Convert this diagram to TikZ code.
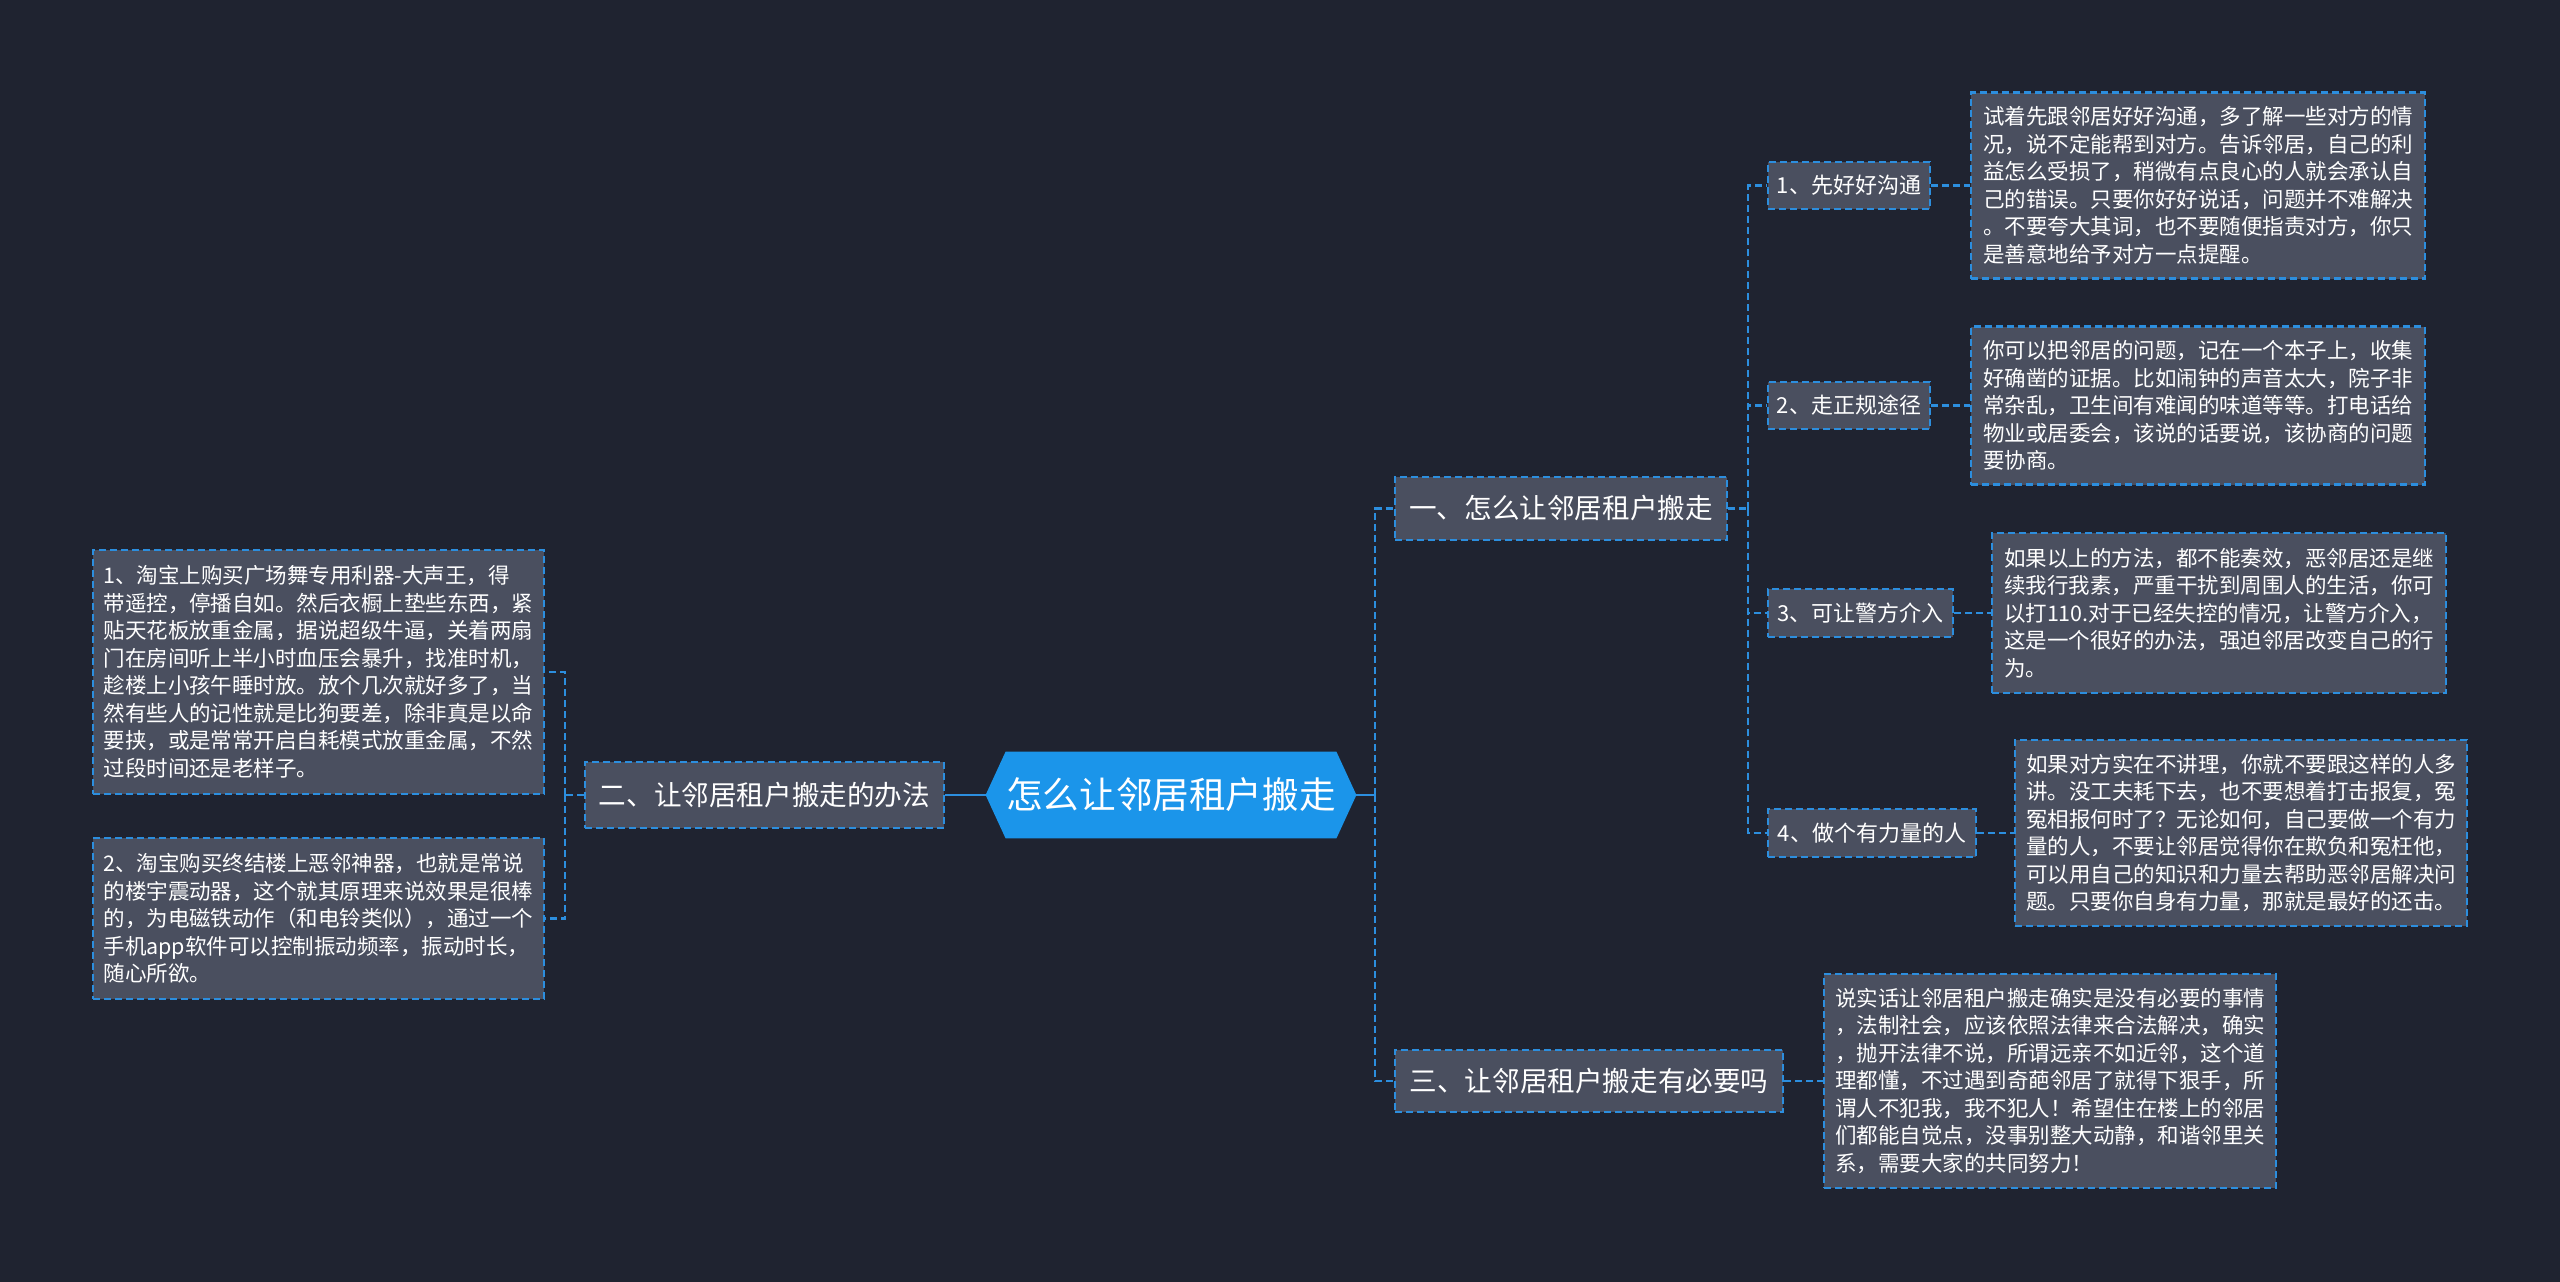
\documentclass[tikz,border=0pt]{standalone}
\usepackage{fontspec}
\setmainfont{Noto Sans CJK SC}
\usetikzlibrary{calc}
\definecolor{bgcol}{HTML}{1F2330}
\definecolor{boxcol}{HTML}{4A4F5F}
\definecolor{linecol}{HTML}{2C8EDE}
\definecolor{rootcol}{HTML}{1B95EA}
\pgfdeclarelayer{bg}
\pgfsetlayers{bg,main}

\begin{document}
\begin{tikzpicture}[x=0.5pt,y=-0.5pt,
  dashline/.style={draw=linecol,line width=1.2pt,dash pattern=on 3.5pt off 2pt},
  link/.style={dashline},
  topic/.style={text=white,inner sep=0pt,font=\fontsize{18.3pt}{22pt}\selectfont},
  branch/.style={dashline,fill=boxcol,text=white,inner sep=0pt,font=\fontsize{13.8pt}{16pt}\selectfont},
  item/.style={dashline,fill=boxcol,text=white,inner sep=0pt,font=\fontsize{11pt}{13pt}\selectfont},
  note/.style={dashline,fill=boxcol,text=white,inner sep=0pt,align=left,font=\fontsize{10.75pt}{13.75pt}\selectfont}]
\useasboundingbox (0,0) rectangle (2560,1281);
\begin{pgfonlayer}{bg}
\fill[bgcol] (-10,-10) rectangle (2570,1291);
\end{pgfonlayer}

\node[topic] (root)[minimum width=165pt,minimum height=43pt] at (1171,795) {怎么让邻居租户搬走};
\begin{pgfonlayer}{bg}
\fill[rootcol] (root.north west) -- (root.north east) -- ([xshift=10pt]root.east)
  -- (root.south east) -- (root.south west) -- ([xshift=-10pt]root.west) -- cycle;
\end{pgfonlayer}
\coordinate (rootR) at ([xshift=10pt]root.east);
\coordinate (rootL) at ([xshift=-10pt]root.west);

\node[branch] (yi)[minimum width=166pt,minimum height=31.5pt] at (1561,508.5) {一、怎么让邻居租户搬走};
\node[branch] (er)[minimum width=179.5pt,minimum height=33pt] at (764.5,795) {二、让邻居租户搬走的办法};
\node[branch] (san)[minimum width=194pt,minimum height=31pt] at (1589,1081) {三、让邻居租户搬走有必要吗};

\node[item] (s1)[minimum width=81pt,minimum height=23.5pt] at (1849,185.5) {1、先好好沟通};
\node[item] (s2)[minimum width=81pt,minimum height=23.5pt] at (1849,405.5) {2、走正规途径};
\node[item] (s3)[minimum width=92.5pt,minimum height=24pt] at (1860.5,613) {3、可让警方介入};
\node[item] (s4)[minimum width=104pt,minimum height=24pt] at (1872,833) {4、做个有力量的人};

\node[note] (d1)[minimum width=227pt,minimum height=93pt] at (2198,185.5) {试着先跟邻居好好沟通，多了解一些对方的情\\况，说不定能帮到对方。告诉邻居，自己的利\\益怎么受损了，稍微有点良心的人就会承认自\\己的错误。只要你好好说话，问题并不难解决\\。不要夸大其词，也不要随便指责对方，你只\\是善意地给予对方一点提醒。};
\node[note] (d2)[minimum width=227pt,minimum height=79pt] at (2198,405.5) {你可以把邻居的问题，记在一个本子上，收集\\好确凿的证据。比如闹钟的声音太大，院子非\\常杂乱，卫生间有难闻的味道等等。打电话给\\物业或居委会，该说的话要说，该协商的问题\\要协商。};
\node[note] (d3)[minimum width=227pt,minimum height=80pt] at (2219,613) {如果以上的方法，都不能奏效，恶邻居还是继\\续我行我素，严重干扰到周围人的生活，你可\\以打110.对于已经失控的情况，让警方介入，\\这是一个很好的办法，强迫邻居改变自己的行\\为。};
\node[note] (d4)[minimum width=226pt,minimum height=93pt] at (2241,833) {如果对方实在不讲理，你就不要跟这样的人多\\讲。没工夫耗下去，也不要想着打击报复，冤\\冤相报何时了？无论如何，自己要做一个有力\\量的人，不要让邻居觉得你在欺负和冤枉他，\\可以用自己的知识和力量去帮助恶邻居解决问\\题。只要你自身有力量，那就是最好的还击。};
\node[note] (d5)[minimum width=226pt,minimum height=107pt] at (2050,1081) {说实话让邻居租户搬走确实是没有必要的事情\\，法制社会，应该依照法律来合法解决，确实\\，抛开法律不说，所谓远亲不如近邻，这个道\\理都懂，不过遇到奇葩邻居了就得下狠手，所\\谓人不犯我，我不犯人！希望住在楼上的邻居\\们都能自觉点，没事别整大动静，和谐邻里关\\系，需要大家的共同努力！};

\node[note] (l1)[minimum width=225.5pt,minimum height=122pt] at (318.5,672) {1、淘宝上购买广场舞专用利器-大声王，得\\带遥控，停播自如。然后衣橱上垫些东西，紧\\贴天花板放重金属，据说超级牛逼，关着两扇\\门在房间听上半小时血压会暴升，找准时机，\\趁楼上小孩午睡时放。放个几次就好多了，当\\然有些人的记性就是比狗要差，除非真是以命\\要挟，或是常常开启自耗模式放重金属，不然\\过段时间还是老样子。};
\node[note] (l2)[minimum width=225.5pt,minimum height=80.5pt] at (318.5,918.5) {2、淘宝购买终结楼上恶邻神器，也就是常说\\的楼宇震动器，这个就其原理来说效果是很棒\\的，为电磁铁动作（和电铃类似），通过一个\\手机app软件可以控制振动频率，振动时长，\\随心所欲。};

\coordinate (j1) at (1375,795);
\coordinate (j2) at (1748,508.5);
\coordinate (j3) at (565,795);

\draw[linecol,line width=1.2pt] (rootR) -- (j1);
\draw[linecol,line width=1.2pt] (rootL) -- (er.east);
\draw[link] (j1) |- (yi.west);
\draw[link] (j1) |- (san.west);
\draw[link] (yi.east) -- (j2);
\foreach \n in {s1,s2,s3,s4}
  \draw[link] (j2) |- (\n.west);
\foreach \a/\b in {s1/d1,s2/d2,s3/d3,s4/d4,san/d5}
  \draw[link] (\a.east) -- (\b.west);
\draw[link] (er.west) -- (j3);
\draw[link] (j3) |- (l1.east);
\draw[link] (j3) |- (l2.east);
\end{tikzpicture}
\end{document}
